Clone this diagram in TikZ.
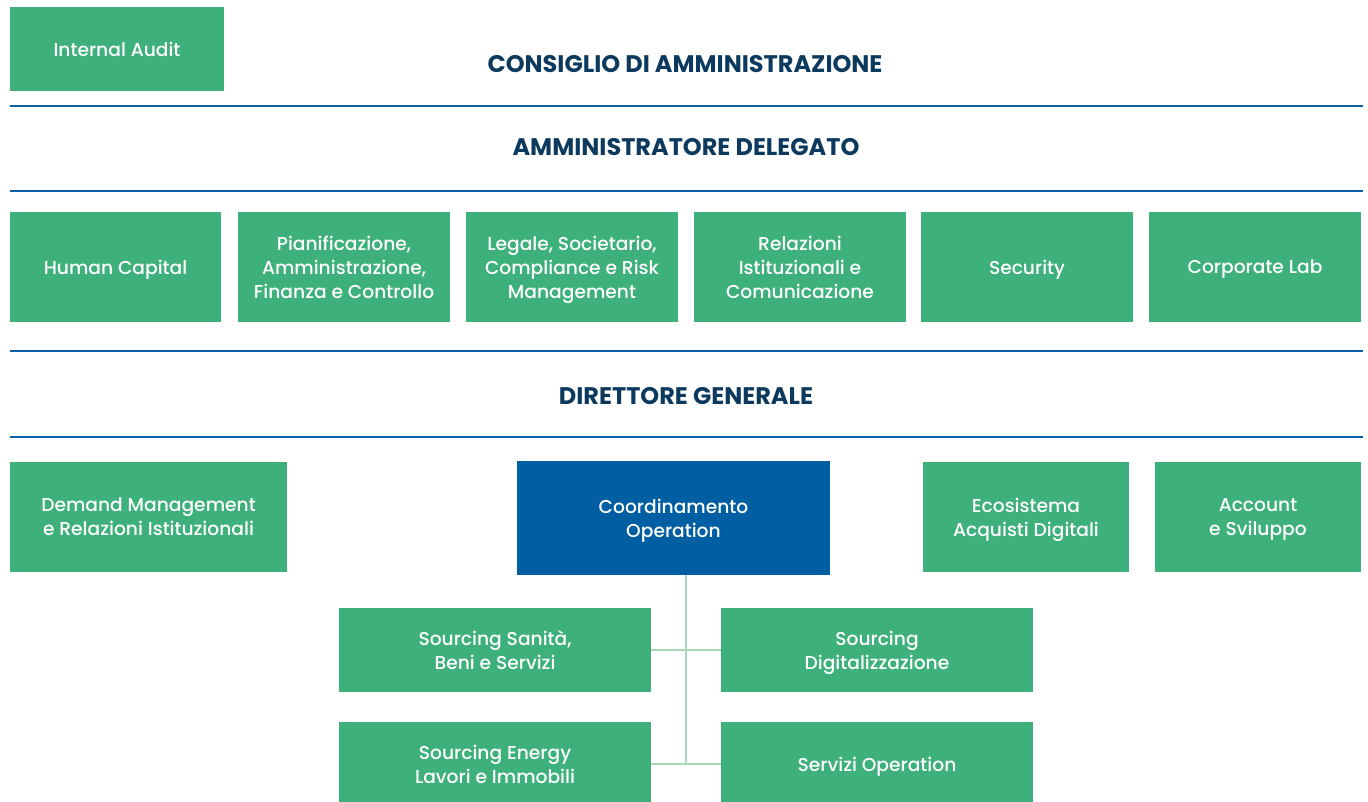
\documentclass[tikz,border=0pt]{standalone}
\usepackage{fontspec}
\setmainfont{Poppins}[UprightFont={* Medium},BoldFont={* Bold}]
\usepackage{tikz}
\usetikzlibrary{positioning,calc}
\definecolor{boxgreen}{HTML}{3DB07B}
\definecolor{opblue}{HTML}{005EA3}
\definecolor{ruleblue}{HTML}{0B5FA4}
\definecolor{headnavy}{HTML}{0C3A5F}
\definecolor{linkgreen}{HTML}{A8D8B9}

\begin{document}
\begin{tikzpicture}[x=0.75pt,y=-0.75pt,
  sz/.style 2 args={minimum width=#1*0.75pt,minimum height=#2*0.75pt},
  unit/.style={fill=boxgreen,text=white,align=center,inner sep=0pt,text depth=0pt,font=\fontsize{14}{18}\selectfont},
  head/.style={text=headnavy,font=\fontsize{18}{22}\selectfont\bfseries},
  rule/.style={draw=ruleblue,line width=1.9pt},
  link/.style={draw=linkgreen,line width=2.2pt}]
\clip (0,0) rectangle (1368,801);
\fill[white] (0,0) rectangle (1368,801);

% vertici
\node[unit,sz={214}{84}] (ia) at (117,49) {Internal Audit};
\node[head] (cda) at (685,64) {CONSIGLIO DI AMMINISTRAZIONE};
\node[head] (ad) at (686,147) {AMMINISTRATORE DELEGATO};
\node[head] (dg) at (686,396) {DIRETTORE GENERALE};

\coordinate (r1w) at (10,106);  \coordinate (r1e) at (1363,106);
\coordinate (r2w) at (10,191);  \coordinate (r2e) at (1363,191);
\coordinate (r3w) at (10,351);  \coordinate (r3e) at (1363,351);
\coordinate (r4w) at (10,437);  \coordinate (r4e) at (1363,437);
\draw[rule] (r1w) -- (r1e);
\draw[rule] (r2w) -- (r2e);
\draw[rule] (r3w) -- (r3e);
\draw[rule] (r4w) -- (r4e);

% staff AD
\node[unit,sz={211}{110}] (hc) at (115.5,267) {Human Capital};
\node[unit,sz={212}{110}] (pafc) at (344,267) {Pianificazione,\\Amministrazione,\\Finanza e Controllo};
\node[unit,sz={212}{110}] (lsc) at (572,267) {Legale, Societario,\\Compliance e Risk\\Management};
\node[unit,sz={212}{110}] (ric) at (800,267) {Relazioni\\Istituzionali e\\Comunicazione};
\node[unit,sz={212}{110}] (sec) at (1027,267) {Security};
\node[unit,sz={212}{110}] (lab) at (1255,267) {Corporate Lab};

% direzioni DG
\node[unit,sz={277}{110}] (dm) at (148.5,517) {Demand Management\\e Relazioni Istituzionali};
\node[unit,fill=opblue,sz={313}{114}] (co) at (673.5,518) {Coordinamento\\Operation};
\node[unit,sz={206}{110}] (eco) at (1026,517) {Ecosistema\\Acquisti Digitali};
\node[unit,sz={206}{110}] (acc) at (1258,517) {Account\\e Sviluppo};

% sourcing
\node[unit,sz={312}{84}] (ss) at (495,650) {Sourcing Sanità,\\Beni e Servizi};
\node[unit,sz={312}{84}] (sd) at (877,650) {Sourcing\\Digitalizzazione};
\node[unit,sz={312}{84}] (se) at (495,764) {Sourcing Energy\\Lavori e Immobili};
\node[unit,sz={312}{84}] (so) at (877,764) {Servizi Operation};

\coordinate (j1) at ($(ss.east)!0.5!(sd.west)$);
\coordinate (j2) at ($(se.east)!0.5!(so.west)$);
\draw[link] (j1 |- co.south) -- (j2);
\draw[link] (ss.east) -- (sd.west);
\draw[link] (se.east) -- (so.west);
\end{tikzpicture}
\end{document}
